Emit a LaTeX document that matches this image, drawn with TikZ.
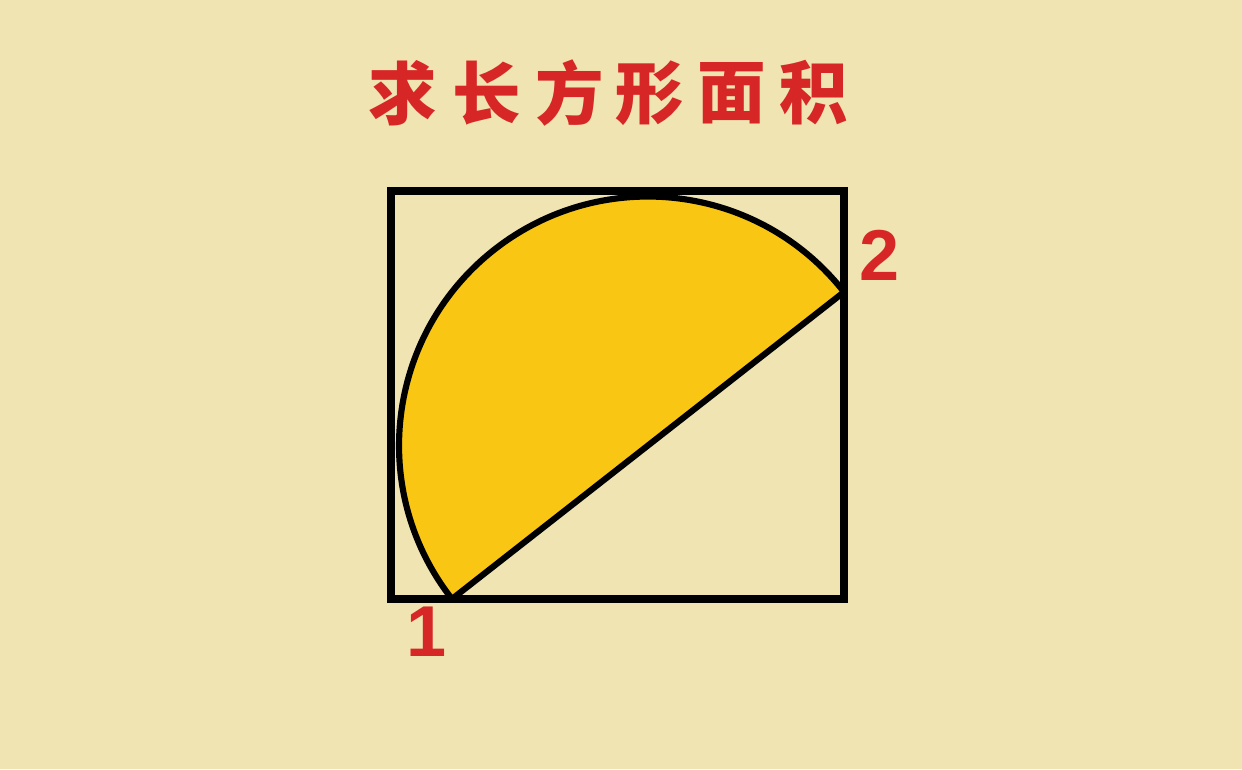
\documentclass[tikz,border=0pt]{standalone}
\usepackage{fontspec}
\setmainfont{Liberation Sans}
\newfontfamily\cjk{Noto Sans CJK SC}
\definecolor{bg}{RGB}{240,228,178}
\definecolor{fillyel}{RGB}{250,198,20}
\definecolor{titlered}{RGB}{214,38,38}
\tikzset{
  frame/.style={line width=4pt, line join=miter},
  curve/.style={line width=3.5pt, line join=round},
  title/.style={text=titlered, font=\cjk\bfseries\fontsize{39}{39}\selectfont, inner sep=0pt},
  numlabel/.style={text=titlered, font=\bfseries\fontsize{41}{41}\selectfont, inner sep=0pt}
}
\begin{document}
\begin{tikzpicture}[x=0.02cm,y=-0.02cm]
\fill[bg] (0,0) rectangle (1242,769);
\useasboundingbox (0,0) rectangle (1242,769);
% title characters
\node[title] (t1) at (403,93) {求};
\node[title] (t2) at (487,93) {长};
\node[title] (t3) at (570,93) {方};
\node[title] (t4) at (650,93) {形};
\node[title] (t5) at (732,93) {面};
\node[title] (t6) at (814,93) {积};
% geometry
\coordinate (A) at (391,191);
\coordinate (B) at (844,191);
\coordinate (Cc) at (844,599);
\coordinate (D) at (391,599);
\coordinate (P1) at (452,599);
\coordinate (P2) at (844,292);
\fill[fillyel] (P2) arc[start angle=-38.06, end angle=-218.06, radius=248.96] -- cycle;
\draw[frame] (A) -- (B) -- (Cc) -- (D) -- cycle;
\draw[curve] (P2) arc[start angle=-38.06, end angle=-218.06, radius=248.96] -- cycle;
\node[numlabel] (n1) at (427,632) {1};
\node[numlabel] (n2) at (880,255) {2};
\end{tikzpicture}
\end{document}
